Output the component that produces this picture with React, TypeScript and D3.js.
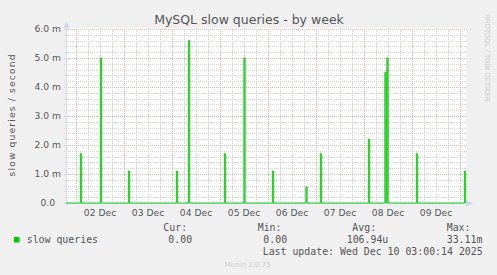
import React from "react";
import * as d3 from "d3";

const W = 497;
const H = 275;

const titleText = "MySQL slow queries - by week";
const yAxisLabel = "slow queries / second";
const watermark = "RRDTOOL / TOBI OETIKER";
const footer = "Munin 2.0.75";

const yTickValues = [0, 1, 2, 3, 4, 5, 6];
const yTickLabels = ["0.0", "1.0 m", "2.0 m", "3.0 m", "4.0 m", "5.0 m", "6.0 m"];

const dayLabels = ["02 Dec", "03 Dec", "04 Dec", "05 Dec", "06 Dec", "07 Dec", "08 Dec", "09 Dec"];
const dayDates = ["2025-12-02", "2025-12-03", "2025-12-04", "2025-12-05", "2025-12-06", "2025-12-07", "2025-12-08", "2025-12-09"];

const rangeStart = "2025-12-01T19:00";
const rangeEnd = "2025-12-10T03:00";

// spike sample centres and their values (milli queries / second)
const spikeTimes = [
  "2025-12-02T02:30",
  "2025-12-02T12:30",
  "2025-12-03T02:30",
  "2025-12-04T02:30",
  "2025-12-04T08:30",
  "2025-12-05T02:30",
  "2025-12-05T12:15",
  "2025-12-06T02:30",
  "2025-12-06T19:15",
  "2025-12-07T02:30",
  "2025-12-08T02:30",
  "2025-12-08T10:45",
  "2025-12-08T11:45",
  "2025-12-09T02:30",
  "2025-12-10T02:30",
];
const spikeValues = [1.7, 5.0, 1.1, 1.1, 5.6, 1.7, 5.0, 1.1, 0.55, 1.7, 2.2, 4.5, 5.0, 1.7, 1.1];

const legendHeaders = ["Cur:", "Min:", "Avg:", "Max:"];
const legendValues = ["0.00", "0.00", "106.94u", "33.11m"];
const seriesName = "slow queries";
const lastUpdate = "Last update: Wed Dec 10 03:00:14 2025";

const parseT = d3.timeParse("%Y-%m-%dT%H:%M");
const parseD = d3.timeParse("%Y-%m-%d");

export default function App() {
  const left = 66;
  const right = 466;
  const top = 29;
  const bottom = 203;

  const t0 = parseT(rangeStart) as Date;
  const t1 = parseT(rangeEnd) as Date;
  const x = d3.scaleTime().domain([t0, t1]).range([left, right]);
  const y = d3.scaleLinear().domain([0, 6]).range([bottom, top]);

  const minorY = d3.range(0, 30).map((i) => i * 0.2).filter((v) => Math.abs(v - Math.round(v)) > 1e-6);
  const minorX = d3.timeHour.every(6)!.range(t0, t1).filter((d) => d.getHours() !== 0);
  const majorX = d3.timeDay.range(t0, t1);

  const pts: { t: Date; v: number }[] = [{ t: t0, v: 0 }];
  spikeTimes.forEach((s, i) => {
    const c = parseT(s) as Date;
    const a = d3.timeMinute.offset(c, -20);
    const b = d3.timeMinute.offset(c, 20);
    pts.push({ t: a, v: 0 }, { t: a, v: spikeValues[i] }, { t: b, v: spikeValues[i] }, { t: b, v: 0 });
  });
  pts.push({ t: t1, v: 0 });
  const line = d3
    .line<{ t: Date; v: number }>()
    .x((d) => x(d.t))
    .y((d) => y(d.v));

  const font = "'DejaVu Sans', sans-serif";
  const mono = "'DejaVu Sans Mono', monospace";
  const txt = "#555";
  const axisCol = "#CFD6F8";
  const minorCol = "#d6d6d6";
  const majorCol = "#ebb0b0";

  const legX = [163.3, 257.7, 352.3, 446.7];
  const valX = [168.3, 263.3, 346.7, 446.7];

  return (
    <svg width={W} height={H} style={{ position: "absolute", left: 0, top: 0, display: "block" }}>
      <rect x={0} y={0} width={W} height={H} fill="#F0F0F0" />
      <rect x={left} y={top - 1} width={right - left + 1} height={bottom - top + 1} fill="#FFFFFF" />

      {/* minor grid */}
      {minorY.map((v, i) => (
        <line key={"my" + i} x1={left - 2} x2={right + 2} y1={Math.round(y(v)) + 0.5} y2={Math.round(y(v)) + 0.5}
          stroke={minorCol} strokeDasharray="1,1" />
      ))}
      {minorX.map((d, i) => (
        <line key={"mx" + i} x1={Math.round(x(d)) + 0.5} x2={Math.round(x(d)) + 0.5} y1={top} y2={bottom + 2}
          stroke={minorCol} strokeDasharray="1,1" />
      ))}
      {/* major grid */}
      {yTickValues.filter((v) => v > 0).map((v, i) => (
        <line key={"My" + i} x1={left - 2} x2={right + 2} y1={Math.round(y(v)) + 0.5} y2={Math.round(y(v)) + 0.5}
          stroke={majorCol} strokeDasharray="1,1" />
      ))}
      {majorX.map((d, i) => (
        <line key={"Mx" + i} x1={Math.round(x(d)) + 0.5} x2={Math.round(x(d)) + 0.5} y1={top} y2={bottom + 2}
          stroke={majorCol} strokeDasharray="1,1" />
      ))}

      {/* axes */}
      <line x1={left + 0.5} x2={left + 0.5} y1={bottom + 2} y2={top - 5} stroke={axisCol} />
      <path d={`M${left + 0.5},${top - 8} L${left - 2.5},${top - 1} L${left + 3.5},${top - 1} Z`} fill={axisCol} />
      <line x1={left - 2} x2={right + 3} y1={bottom + 0.5} y2={bottom + 0.5} stroke={axisCol} />
      <path d={`M${right + 7},${bottom + 0.5} L${right},${bottom - 2.5} L${right},${bottom + 3.5} Z`} fill={axisCol} />

      {/* data */}
      <path d={line(pts) || ""} fill="#80e080" stroke="#00cc00" strokeWidth={0.9} />

      {/* y ticks */}
      {yTickValues.map((v, i) => (
        <text key={"yt" + i} x={v === 0 ? 55 : 61} y={y(v) + 3.3} textAnchor="end" fontFamily={font} fontSize={9.2} fill={txt}>
          {yTickLabels[i]}
        </text>
      ))}
      {/* x ticks */}
      {dayDates.map((s, i) => (
        <text key={"xt" + i} x={x(d3.timeHour.offset(parseD(s) as Date, 12))} y={216} textAnchor="middle" fontFamily={font} fontSize={9.2} fill={txt}>
          {dayLabels[i]}
        </text>
      ))}

      {/* title */}
      <text x={249} y={23.5} textAnchor="middle" fontFamily={font} fontSize={12.5} fill={txt}>{titleText}</text>

      {/* y label */}
      <text transform={`translate(15.3,115.5) rotate(-90)`} textAnchor="middle" fontFamily={font} fontSize={9.2} fill={txt}
        textLength={122} lengthAdjust="spacing">{yAxisLabel}</text>

      {/* watermark */}
      <text transform={`translate(484.5,14) rotate(90)`} fontFamily={font} fontSize={6.8} fill="#c8c8c8">{watermark}</text>

      {/* legend */}
      {legendHeaders.map((h, i) => (
        <text key={"lh" + i} x={legX[i]} y={231} fontFamily={mono} fontSize={9.9} fill={txt}>{h}</text>
      ))}
      <rect x={14} y={237} width={5.5} height={5.5} fill="#00cc00" />
      <text x={26.7} y={242.7} fontFamily={mono} fontSize={9.9} fill={txt}>{seriesName}</text>
      {legendValues.map((v, i) => (
        <text key={"lv" + i} x={valX[i]} y={242.7} fontFamily={mono} fontSize={9.9} fill={txt}>{v}</text>
      ))}
      <text x={482.7} y={255} textAnchor="end" fontFamily={mono} fontSize={9.9} fill={txt}>{lastUpdate}</text>
      <text x={247.7} y={266.5} textAnchor="middle" fontFamily={font} fontSize={7} fill="#cccccc">{footer}</text>
    </svg>
  );
}
